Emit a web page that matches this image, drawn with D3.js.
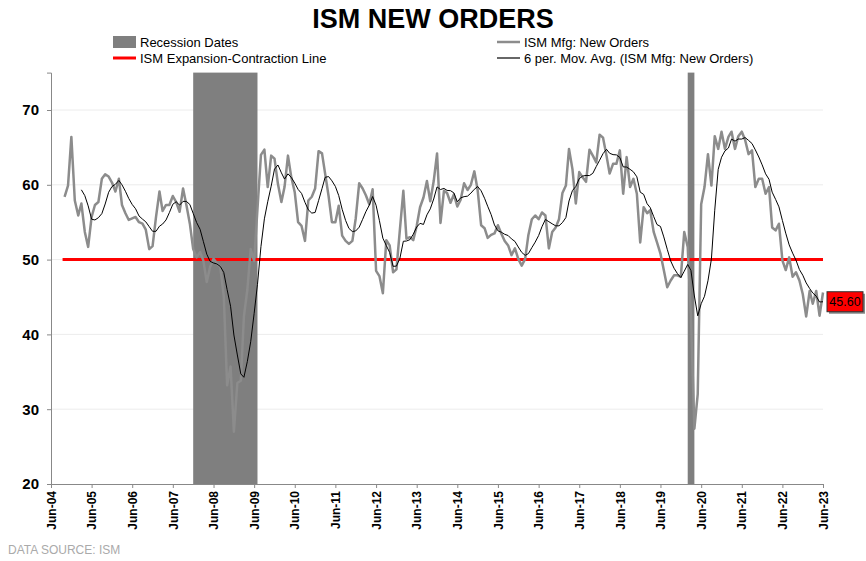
<!DOCTYPE html>
<html>
<head>
<meta charset="utf-8">
<script src="https://cdn.jsdelivr.net/npm/d3@7"></script>
<style>
	body { margin: 0; background: #fff; font-family: "Liberation Sans", Arial, sans-serif; }
</style>
</head>
<body>
<div id="chart"></div>
<script>
const width = 866, height = 561,
	margin = {top: 72, right: 43, bottom: 77, left: 51};

// ISM new orders, monthly from Oct-04 to Jun-23
const values = [58.4, 59.9, 66.4, 57.9, 55.9, 57.5, 53.7, 51.7, 55.7, 57.3, 57.7, 60.8,
	61.4, 61.1, 60.3, 59.1, 60.8, 57.3, 56.2, 55.3, 55.5, 55.7, 55.0, 54.8,
	54.0, 51.4, 51.8, 55.7, 59.1, 56.5, 57.3, 57.3, 58.5, 57.7, 56.4, 59.5,
	57.3, 54.8, 51.4, 50.3, 51.0, 49.9, 47.0, 49.0, 50.1, 49.5, 49.0, 45.1,
	33.2, 35.7, 27.0, 33.5, 33.8, 42.4, 46.0, 51.4, 49.8, 56.8, 64.0, 64.7,
	59.7, 63.9, 63.5, 60.1, 57.7, 59.7, 63.9, 61.0, 59.0, 55.0, 54.5, 52.5,
	57.9, 58.4, 59.5, 64.5, 64.2, 61.5, 58.5, 55.0, 55.0, 57.2, 53.2, 52.5,
	52.1, 52.5, 55.5, 60.2, 59.5, 58.6, 57.4, 59.4, 48.5, 47.8, 45.5, 52.6,
	51.9, 48.3, 48.7, 54.0, 59.2, 52.8, 53.0, 52.6, 54.5, 57.0, 58.3, 60.5,
	57.8, 60.5, 64.2, 54.9, 59.2, 58.9, 57.6, 58.7, 57.1, 58.0, 60.2, 59.3,
	60.0, 61.8, 59.3, 54.6, 54.2, 52.9, 53.3, 53.5, 54.6, 53.5, 52.5, 51.9,
	50.6, 51.5, 50.1, 49.2, 50.1, 53.3, 55.4, 55.9, 55.4, 56.3, 55.9, 51.5,
	53.7, 54.3, 55.4, 58.9, 59.9, 64.8, 62.1, 57.5, 61.7, 61.0, 60.4, 64.7,
	63.9, 63.0, 66.7, 66.3, 63.9, 61.5, 62.8, 62.8, 64.6, 58.8, 63.7, 59.7,
	60.8, 58.8, 52.3, 57.0, 56.2, 56.6, 53.7, 52.3, 50.8, 48.6, 46.3, 47.2,
	47.9, 47.9, 47.7, 53.7, 51.7, 42.4, 27.4, 32.0, 57.4, 59.7, 64.1, 59.9,
	66.5, 64.8, 67.1, 64.8, 66.4, 67.1, 64.8, 66.5, 67.1, 66.0, 64.1, 64.6,
	59.7, 60.8, 60.8, 58.8, 59.7, 54.3, 53.9, 54.8, 49.9, 48.6, 50.3, 47.7,
	48.3, 47.2, 45.4, 42.4, 45.8, 44.1, 45.8, 42.5, 45.6];

const data = values.map((v, i) => ({date: new Date(2004, 9 + i, 1), value: v}));
const ma = data.slice(5).map((d, i) => ({
	date: d.date,
	value: d3.mean(data.slice(i, i + 6), e => e.value)
}));

const recessions = [
	[new Date(2007, 11, 1), new Date(2009, 6, 1)],
	[new Date(2020, 1, 1), new Date(2020, 3, 1)]
];

const x = d3.scaleTime()
	.domain([new Date(2004, 5, 1), new Date(2023, 5, 1)])
	.range([margin.left, width - margin.right]);
const y = d3.scaleLinear()
	.domain([20, 75])
	.range([height - margin.bottom, height - margin.bottom - 55 * 7.48]);

const svg = d3.select("#chart").append("svg")
	.attr("width", width).attr("height", height);

// title
svg.append("text")
	.attr("x", 433).attr("y", 28)
	.attr("text-anchor", "middle")
	.style("font-size", "27px").style("font-weight", "bold")
	.style("font-family", "'Liberation Sans', Arial, sans-serif")
	.text("ISM NEW ORDERS");

// gridlines
svg.append("g")
	.selectAll("line")
	.data([30, 40, 50, 60, 70])
	.join("line")
	.attr("x1", margin.left).attr("x2", width - margin.right)
	.attr("y1", d => y(d)).attr("y2", d => y(d))
	.attr("stroke", "#ececec");

// recession shading
svg.append("g")
	.selectAll("rect")
	.data(recessions)
	.join("rect")
	.attr("x", d => x(d[0]))
	.attr("width", d => x(d[1]) - x(d[0]))
	.attr("y", y(75))
	.attr("height", y(20) - y(75))
	.attr("fill", "#7f7f7f");

// expansion / contraction line
svg.append("line")
	.attr("x1", x(data[0].date) - 2).attr("x2", width - margin.right)
	.attr("y1", y(50)).attr("y2", y(50))
	.attr("stroke", "#ff0000").attr("stroke-width", 3);

const line = d3.line().x(d => x(d.date)).y(d => y(d.value));

svg.append("path")
	.datum(data)
	.attr("d", line)
	.attr("fill", "none")
	.attr("stroke", "#8c8c8c")
	.attr("stroke-width", 2.5)
	.attr("stroke-linejoin", "round");

svg.append("path")
	.datum(ma)
	.attr("d", line)
	.attr("fill", "none")
	.attr("stroke", "#000")
	.attr("stroke-width", 1);

// axes
const yAxis = svg.append("g")
	.attr("transform", `translate(${margin.left},0)`)
	.call(d3.axisLeft(y).tickValues([20, 30, 40, 50, 60, 70]).tickSize(4).tickPadding(8));
yAxis.selectAll("text")
	.style("font-size", "15px").style("font-weight", "bold")
	.style("font-family", "'Liberation Sans', Arial, sans-serif");

const junes = d3.range(2004, 2024).map(yr => new Date(yr, 5, 1));
const xAxis = svg.append("g")
	.attr("transform", `translate(0,${height - margin.bottom})`)
	.call(d3.axisBottom(x).tickValues(junes).tickSize(4).tickFormat(d3.timeFormat("Jun-%y")));
xAxis.selectAll("text")
	.attr("transform", "rotate(-90)")
	.attr("text-anchor", "end")
	.attr("x", -7).attr("y", 0).attr("dy", "0.35em")
	.style("font-size", "12px").style("font-weight", "bold")
	.style("font-family", "'Liberation Sans', Arial, sans-serif");
svg.selectAll(".domain, .tick line").attr("stroke", "#888");

// last value label
const last = ma[ma.length - 1];
const lbl = svg.append("g")
	.attr("transform", `translate(${x(last.date) + 4},${y(last.value)})`);
lbl.append("rect")
	.attr("x", 2).attr("y", -8).attr("width", 36).attr("height", 20)
	.attr("fill", "#888");
lbl.append("rect")
	.attr("x", 0).attr("y", -10).attr("width", 36).attr("height", 20)
	.attr("fill", "#ff0000").attr("stroke", "#333");
lbl.append("text")
	.attr("x", 18).attr("y", 4.5).attr("text-anchor", "middle")
	.style("font-size", "12.5px")
	.text(data[data.length - 1].value.toFixed(2));

// legend
const legend = [
	{x: 113, y: 42, label: "Recession Dates", type: "rect", color: "#7f7f7f"},
	{x: 497, y: 42, label: "ISM Mfg: New Orders", type: "line", color: "#8c8c8c", w: 2.5},
	{x: 113, y: 58, label: "ISM Expansion-Contraction Line", type: "line", color: "#ff0000", w: 3},
	{x: 497, y: 58, label: "6 per. Mov. Avg. (ISM Mfg: New Orders)", type: "line", color: "#000", w: 1.2}
];
const lg = svg.append("g").selectAll("g").data(legend).join("g")
	.attr("transform", d => `translate(${d.x},${d.y})`);
lg.filter(d => d.type === "rect").append("rect")
	.attr("x", 0).attr("y", -6).attr("width", 23).attr("height", 12).attr("fill", d => d.color);
lg.filter(d => d.type === "line").append("line")
	.attr("x1", 0).attr("x2", 23)
	.attr("stroke", d => d.color).attr("stroke-width", d => d.w);
lg.append("text")
	.attr("x", 27).attr("y", 4.5)
	.style("font-size", "13px")
	.text(d => d.label);

svg.append("text")
	.attr("x", 8).attr("y", 554)
	.attr("fill", "#aaa")
	.style("font-size", "12px")
	.text("DATA SOURCE:  ISM");
</script>
</body>
</html>
